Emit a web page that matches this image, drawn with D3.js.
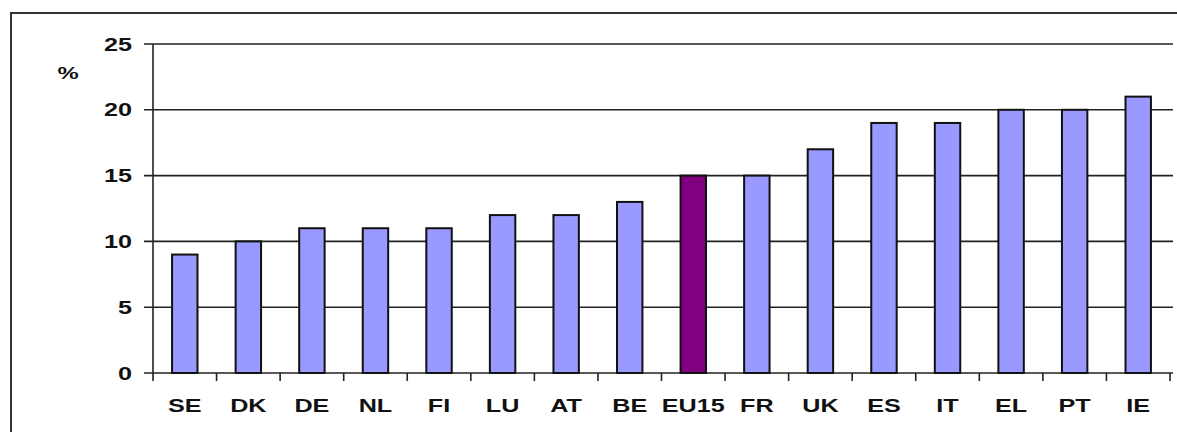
<!DOCTYPE html>
<html>
<head>
<meta charset="utf-8">
<script src="https://cdn.jsdelivr.net/npm/d3@7"></script>
<style>
  html, body { margin: 0; background: #fff; overflow: hidden; }
  svg { display: block; }
  text { font-family: "Liberation Sans", Arial, sans-serif; font-weight: bold; fill: #111; }
</style>
</head>
<body>
<svg id="chart" width="1177" height="432"></svg>
<script>
// data
var countries = ["SE","DK","DE","NL","FI","LU","AT","BE","EU15","FR","UK","ES","IT","EL","PT","IE"];
var values = [9, 10, 11, 11, 11, 12, 12, 13, 15, 15, 17, 19, 19, 20, 20, 21];
var yTicks = [0, 5, 10, 15, 20, 25];
var highlight = "EU15";

var data = countries.map(function(c, i) { return {name: c, value: values[i]}; });

var svg = d3.select("#chart");

// outer frame: only top and left edges are in view
svg.append("line")
  .attr("x1", 11).attr("x2", 11)
  .attr("y1", 12).attr("y2", 432)
  .attr("stroke", "#333")
  .attr("stroke-width", 2);
svg.append("line")
  .attr("x1", 10).attr("x2", 1177)
  .attr("y1", 13).attr("y2", 13)
  .attr("stroke", "#333")
  .attr("stroke-width", 2);

var x = d3.scaleBand()
  .domain(countries)
  .range([153, 1170])
  .paddingInner(0.6)
  .paddingOuter(0.3);

var y = d3.scaleLinear()
  .domain([0, 25])
  .range([373, 44]);

// gridlines + y tick marks
svg.append("g")
  .selectAll("line")
  .data(yTicks)
  .join("line")
  .attr("x1", 144).attr("x2", 1173)
  .attr("y1", d => y(d)).attr("y2", d => y(d))
  .attr("stroke", "#222")
  .attr("stroke-width", 1.6);

// y axis line
svg.append("line")
  .attr("x1", 153).attr("x2", 153)
  .attr("y1", y(25)).attr("y2", y(0) + 8)
  .attr("stroke", "#222")
  .attr("stroke-width", 1.6);

// category boundary ticks under the x axis
var bounds = countries.map(c => x(c) - x.step() * 0.3).concat([x.range()[1]]);
svg.append("g")
  .selectAll("line")
  .data(bounds.slice(1))
  .join("line")
  .attr("x1", d => d).attr("x2", d => d)
  .attr("y1", y(0)).attr("y2", y(0) + 8)
  .attr("stroke", "#222")
  .attr("stroke-width", 1.6);

// bars
svg.append("g")
  .selectAll("rect")
  .data(data)
  .join("rect")
  .attr("x", d => x(d.name))
  .attr("y", d => y(d.value))
  .attr("width", x.bandwidth())
  .attr("height", d => y(0) - y(d.value))
  .attr("fill", d => d.name == highlight ? "#800080" : "#9999ff")
  .attr("stroke", "#111")
  .attr("stroke-width", 2);

// text is horizontally stretched in the original
var sx = 1.4;

svg.append("g")
  .selectAll("text")
  .data(yTicks)
  .join("text")
  .attr("transform", d => "translate(132," + (y(d) + 6.5) + ") scale(" + sx + ",1)")
  .attr("text-anchor", "end")
  .attr("font-size", 18)
  .text(d => d);

svg.append("g")
  .selectAll("text")
  .data(countries)
  .join("text")
  .attr("transform", d => "translate(" + (x(d) + x.bandwidth() / 2) + ",412) scale(" + sx + ",1)")
  .attr("text-anchor", "middle")
  .attr("font-size", 18)
  .text(d => d);

svg.append("text")
  .attr("transform", "translate(68,79) scale(" + sx + ",1)")
  .attr("text-anchor", "middle")
  .attr("font-size", 17)
  .text("%");
</script>
</body>
</html>
